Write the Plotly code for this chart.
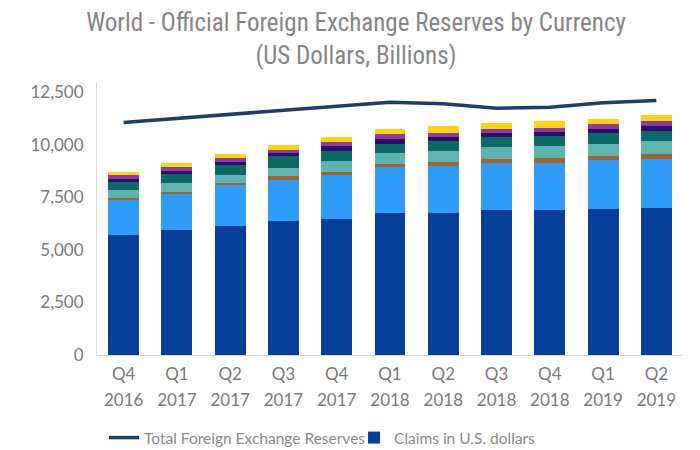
import plotly.graph_objects as go

quarters = ["Q4", "Q1", "Q2", "Q3", "Q4", "Q1", "Q2", "Q3", "Q4", "Q1", "Q2"]
years = ["2016", "2017", "2017", "2017", "2017", "2018", "2018", "2018", "2018", "2019", "2019"]
categories = [f"{q} {y}" for q, y in zip(quarters, years)]

total_reserves = [11074, 11264, 11488, 11678, 11849, 12039, 11963, 11754, 11801, 12010, 12120]
usd = [5703, 5941, 6145, 6369, 6497, 6763, 6763, 6892, 6892, 6972, 7020]
eur = [1664, 1711, 1935, 1982, 2092, 2187, 2220, 2248, 2248, 2296, 2329]
rmb = [109, 109, 100, 157, 123, 161, 204, 209, 257, 205, 238]
jpy = [366, 428, 394, 394, 523, 504, 523, 551, 551, 589, 584]
gbp = [395, 414, 475, 556, 475, 447, 475, 476, 461, 504, 490]
cad = [161, 157, 157, 157, 224, 204, 191, 190, 204, 209, 223]
aud = [157, 190, 176, 162, 204, 238, 209, 209, 209, 204, 238]
other = [157, 190, 190, 204, 238, 271, 299, 266, 300, 271, 285]

y_ticks = [0, 2500, 5000, 7500, 10000, 12500]

series = [
    ("Claims in U.S. dollars", usd, "#063f99", True),
    ("Claims in euros", eur, "#2f9cf9", False),
    ("Claims in Chinese renminbi", rmb, "#a0652a", False),
    ("Claims in Japanese yen", jpy, "#5fb4b1", False),
    ("Claims in pounds sterling", gbp, "#0d6966", False),
    ("Claims in Canadian dollars", cad, "#2b0d6d", False),
    ("Claims in Australian dollars", aud, "#8e3a9e", False),
    ("Claims in other currencies", other, "#fdd20f", False),
]

fig = go.Figure()
fig.add_trace(go.Scatter(
    x=categories, y=total_reserves, mode="lines",
    name="Total Foreign Exchange Reserves",
    line=dict(color="#1f3c6a", width=3.5),
))
for name, vals, color, show in series:
    fig.add_trace(go.Bar(
        x=categories, y=vals, name=name, marker=dict(color=color, line=dict(width=0)),
        showlegend=show,
    ))
# invisible helper trace so the second (year) tick axis is drawn
fig.add_trace(go.Scatter(x=categories, y=[None] * len(categories), xaxis="x2",
                         showlegend=False, hoverinfo="skip", mode="lines"))

tick_font = dict(family="Lato, 'Open Sans', sans-serif", size=17, color="#7a7a7a")

# the page places the figure 8px in from the top-left corner
W, H = 692, 442

fig.update_layout(
    width=W, height=H,
    barmode="stack", bargap=0.42,
    paper_bgcolor="white", plot_bgcolor="white",
    margin=dict(l=89, r=17, t=74, b=95, autoexpand=False),
    separators=".,",
    title=dict(
        text="World - Official Foreign Exchange Reserves by Currency<br>(US Dollars, Billions)",
        font=dict(family="'Liberation Sans Narrow', 'Roboto Condensed', 'DejaVu Sans Condensed', sans-serif",
                  size=25, color="#858585"),
        x=348 / W, xanchor="center", xref="container",
        y=1 - 23 / H, yanchor="middle", yref="container",
    ),
    xaxis=dict(
        type="category", categoryorder="array", categoryarray=categories,
        tickmode="array", tickvals=categories, ticktext=quarters,
        showline=True, linecolor="#d9d9d9", linewidth=1,
        showgrid=False, ticks="", tickfont=tick_font,
        range=[-0.5, 10.5], ticklabelstandoff=4,
    ),
    xaxis2=dict(
        type="category", categoryorder="array", categoryarray=categories,
        overlaying="x", anchor="y", side="bottom",
        tickmode="array", tickvals=categories, ticktext=years,
        showline=False, showgrid=False, ticks="", tickfont=tick_font,
        range=[-0.5, 10.5], ticklabelstandoff=33, zeroline=False,
    ),
    yaxis=dict(
        range=[0, 13000], tickmode="array", tickvals=y_ticks, tickformat=",",
        showline=True, linecolor="#d9d9d9", linewidth=1,
        showgrid=False, zeroline=False, ticks="", tickfont=tick_font,
        ticklabelstandoff=9,
    ),
    legend=dict(
        orientation="h", x=0.012, xanchor="left", y=-0.304, yanchor="middle",
        font=dict(family="Lato, 'Open Sans', sans-serif", size=15.5, color="#8a8a8a"),
        traceorder="normal", itemclick=False, entrywidth=205,
    ),
    shapes=[dict(type="rect", xref="paper", yref="paper",
                 x0=(684 - 89) / 586, x1=(700 - 89) / 586, y0=-1, y1=2,
                 fillcolor="#f1f1f1", line=dict(width=0), layer="below")],
)

fig.write_html("out.html")
